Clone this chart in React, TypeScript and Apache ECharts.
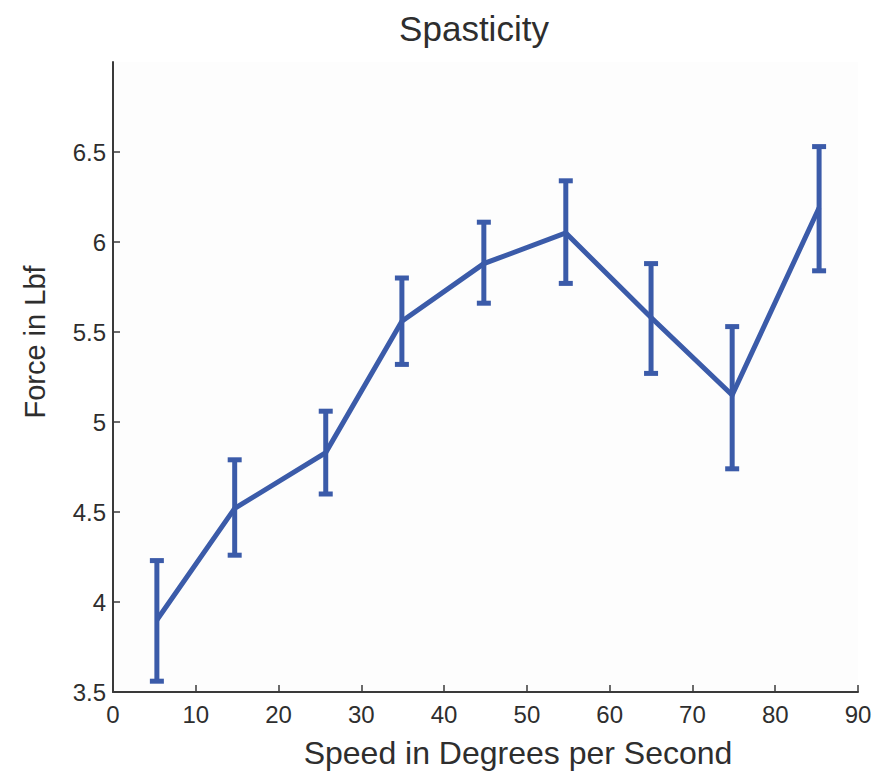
import React, { useEffect, useRef } from "react";
import * as echarts from "echarts";

// Speed (deg/s) at which force was measured
const speeds = [5.3, 14.7, 25.7, 34.9, 44.8, 54.7, 65.0, 74.8, 85.3];
// Mean force (Lbf)
const meanForce = [3.9, 4.52, 4.83, 5.56, 5.88, 6.05, 5.58, 5.15, 6.19];
// Error bar bounds (Lbf)
const lowerForce = [3.56, 4.26, 4.6, 5.32, 5.66, 5.77, 5.27, 4.74, 5.84];
const upperForce = [4.23, 4.79, 5.06, 5.8, 6.11, 6.34, 5.88, 5.53, 6.53];

const yTicks = [3.5, 4, 4.5, 5, 5.5, 6, 6.5];

const BLUE = "#3b5ba9";
const AXIS = "#3a3a3a";
const TEXT = "#2e2e2e";
const FONT = "'Liberation Sans', Arial, Helvetica, sans-serif";

export default function App() {
  const ref = useRef<HTMLDivElement>(null);

  useEffect(() => {
    if (!ref.current) return;
    const chart = echarts.init(ref.current, undefined, { renderer: "svg" });

    const errData = speeds.map((s, i) => [s, lowerForce[i], upperForce[i]]);

    chart.setOption({
      animation: false,
      backgroundColor: "#ffffff",
      textStyle: { fontFamily: FONT },
      grid: {
        left: 113,
        right: 29,
        top: 62,
        bottom: 80,
        show: true,
        backgroundColor: "#fdfdfd",
        borderWidth: 0,
      },
      graphic: [
        {
          type: "text",
          x: 474,
          y: 28,
          style: {
            text: "Spasticity",
            font: `35px ${FONT}`,
            fill: TEXT,
            align: "center",
            verticalAlign: "middle",
          },
        },
        {
          type: "text",
          x: 518,
          y: 753,
          style: {
            text: "Speed in Degrees per Second",
            font: `32px ${FONT}`,
            fill: TEXT,
            align: "center",
            verticalAlign: "middle",
          },
        },
        {
          type: "text",
          x: 35,
          y: 342,
          rotation: Math.PI / 2,
          style: {
            text: "Force in Lbf",
            font: `29px ${FONT}`,
            fill: TEXT,
            align: "center",
            verticalAlign: "middle",
          },
        },
      ],
      xAxis: {
        type: "value",
        min: 0,
        max: 90,
        interval: 10,
        splitLine: { show: false },
        axisLine: { show: true, lineStyle: { color: AXIS, width: 2 } },
        axisTick: { show: true, inside: true, length: 7, lineStyle: { color: AXIS, width: 1.5 } },
        axisLabel: { color: TEXT, fontSize: 24, fontFamily: FONT, margin: 10 },
      },
      yAxis: {
        type: "value",
        min: 3.5,
        max: 7,
        interval: 0.5,
        splitLine: { show: false },
        axisLine: { show: true, lineStyle: { color: AXIS, width: 2 } },
        axisTick: {
          show: true,
          inside: true,
          length: 7,
          customValues: yTicks,
          lineStyle: { color: AXIS, width: 1.5 },
        },
        axisLabel: {
          color: TEXT,
          fontSize: 24,
          fontFamily: FONT,
          margin: 7,
          customValues: yTicks,
          formatter: (v: number) => String(v),
        },
      },
      series: [
        {
          type: "line",
          data: speeds.map((s, i) => [s, meanForce[i]]),
          symbol: "none",
          lineStyle: { color: BLUE, width: 5, join: "miter" },
          z: 2,
        },
        {
          type: "custom",
          data: errData,
          z: 3,
          renderItem: (params: any, api: any) => {
            const x = api.value(0);
            const lo = api.coord([x, api.value(1)]);
            const hi = api.coord([x, api.value(2)]);
            const half = 7;
            const style = { stroke: BLUE, lineWidth: 5, fill: "none" };
            return {
              type: "group",
              children: [
                { type: "line", shape: { x1: lo[0], y1: lo[1], x2: hi[0], y2: hi[1] }, style },
                { type: "line", shape: { x1: lo[0] - half, y1: lo[1], x2: lo[0] + half, y2: lo[1] }, style },
                { type: "line", shape: { x1: hi[0] - half, y1: hi[1], x2: hi[0] + half, y2: hi[1] }, style },
              ],
            };
          },
        },
      ],
    });

    return () => chart.dispose();
  }, []);

  return (
    <div
      ref={ref}
      style={{ position: "fixed", left: 0, top: 0, width: 887, height: 772 }}
    />
  );
}
